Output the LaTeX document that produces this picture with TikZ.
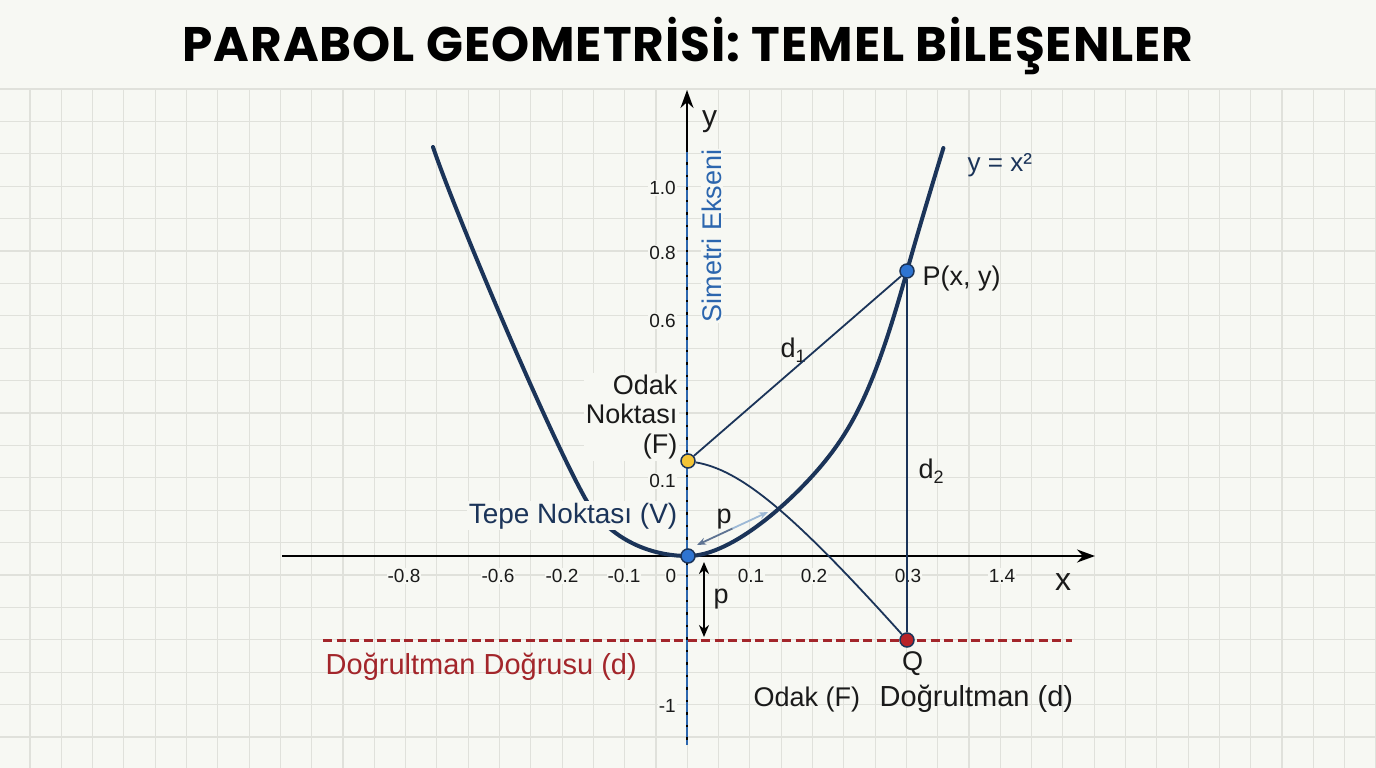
\documentclass[tikz,border=0pt]{standalone}
\usepackage{fontspec}
\setmainfont{Liberation Sans}
\newfontfamily\titlefont{Poppins}
\usetikzlibrary{arrows.meta}
\definecolor{bg}{HTML}{F7F8F3}
\definecolor{gridc}{HTML}{E0E1DB}
\definecolor{navy}{HTML}{1B3459}
\definecolor{symblue}{HTML}{2C66AE}
\definecolor{dred}{HTML}{A3262B}
\definecolor{dotblue}{HTML}{2E74D1}
\definecolor{dotyellow}{HTML}{F3C436}
\definecolor{dotred}{HTML}{B82228}
\definecolor{parrowA}{HTML}{9DB9D6}
\definecolor{parrowB}{HTML}{5E7392}
\definecolor{txt}{HTML}{1A1A1A}
\tikzset{
  lab/.style={font=\fontsize{27}{30}\selectfont, text=txt, fill=bg, inner sep=1.5pt},
  tick/.style={font=\fontsize{19}{22}\selectfont, text=txt, fill=bg, inner sep=1pt},
  dot/.style={circle, minimum size=14pt, inner sep=0pt, draw=navy, line width=1.5pt},
  conn/.style={navy, line width=1.8pt},
}
\begin{document}
\begin{tikzpicture}[x=1pt,y=-1pt]
\useasboundingbox (0,0) rectangle (1376,768);
\fill[bg] (0,0) rectangle (1376,768);
% grid
\foreach \i in {0,...,43} \draw[gridc, line width=1.1pt] ({30+31.3*\i},89) -- ({30+31.3*\i},768);
\foreach \j in {0,...,21} \draw[gridc, line width=1.1pt] (0,{89+32.4*\j}) -- (1376,{89+32.4*\j});
% title
\node[font=\titlefont\bfseries\fontsize{48.5}{54}\selectfont\addfontfeature{LetterSpace=2}, text=black] (title) at (688,46) {PARABOL GEOMETRİSİ: TEMEL BİLEŞENLER};
% key positions
\coordinate (cV) at (688,556);
\coordinate (cF) at (688,461);
\coordinate (cP) at (907,271);
\coordinate (cQ) at (907,640);
\coordinate (topL) at (433,147);
\coordinate (topR) at (943.4,148);
\coordinate (mL) at (585,498);
\coordinate (mR) at (826,460);
% directrix
\coordinate (dl) at (323,640);
\coordinate (dr) at (1072,640);
\draw[dred, line width=3pt, dash pattern=on 9pt off 4.5pt] (dl) -- (dr);
% axes
\coordinate (xl) at (282,556);
\coordinate (xr) at (1095,556);
\coordinate (yb) at (687,745);
\coordinate (yt) at (687,90);
\coordinate (sa) at (687,152);
\draw[line width=2.3pt, -{Stealth[length=18pt,width=13pt]}] (xl) -- (xr);
\draw[line width=2.3pt, -{Stealth[length=18pt,width=13pt]}] (yb) -- (yt);
\draw[symblue, line width=2.6pt, dash pattern=on 10pt off 2.5pt] (sa) -- (yb);
% parabola
\draw[navy, line width=4pt, line cap=round]
  (topL) .. controls (453,207) and (545,426) .. (mL)
  .. controls (607,537.6) and (648,556) .. (cV)
  .. controls (733,556) and (796,497.5) .. (mR)
  .. controls (856.9,421.4) and (877.4,377.6) .. (cP)
  .. controls (917,235) and (933,182) .. (topR);
% tick labels
\node[tick] (tm08) at (404,576) {-0.8};
\node[tick] (tm06) at (498,576) {-0.6};
\node[tick] (tm02) at (562,576) {-0.2};
\node[tick] (tm01) at (624,576) {-0.1};
\node[tick] (t0) at (671,576) {0};
\node[tick] (t01) at (751,576) {0.1};
\node[tick] (t02) at (814,576) {0.2};
\node[tick] (t03) at (908,576) {0.3};
\node[tick] (t14) at (1002,576) {1.4};
\node[tick, anchor=east] (ty10) at (677,188) {1.0};
\node[tick, anchor=east] (ty08) at (677,252.5) {0.8};
\node[tick, anchor=east] (ty06) at (677,321) {0.6};
\node[tick, anchor=east] (ty01) at (677,481) {0.1};
\node[tick, anchor=east] (tym1) at (677,706) {-1};
% labels
\node[lab, font=\fontsize{30}{30}\selectfont, fill=none, anchor=base] (ylab) at (709.5,126) {y};
\node[lab, font=\fontsize{32}{32}\selectfont, fill=none, anchor=base] (xlab) at (1063,590) {x};
\node[lab, font=\fontsize{27}{27}\selectfont, text=symblue, rotate=90, inner sep=1pt] (sym) at (712,236) {Simetri Ekseni};
\node[lab, text=navy, font=\fontsize{26}{26}\selectfont, fill=none, anchor=base west] (eq) at (966,171) {y = x²};
\node[lab, fill=none, anchor=base west] (Plab) at (921,285) {P(x, y)};
\node[lab, anchor=east, align=right, font=\fontsize{27}{29.5}\selectfont] (Flab) at (679,417) {Odak\\Noktası\\(F)};
\node[lab, text=navy, font=\fontsize{28}{30}\selectfont, anchor=base east] (Vlab) at (679,523) {Tepe Noktası (V)};
\node[lab, fill=none, anchor=base west] (d1) at (779,357) {d\raisebox{-0.22em}{\fontsize{18}{18}\selectfont 1}};
\node[lab, fill=none, anchor=base west] (d2) at (917,478) {d\raisebox{-0.22em}{\fontsize{18}{18}\selectfont 2}};
\node[lab, fill=none, anchor=base] (p1) at (724,523) {p};
\node[lab, fill=none, anchor=base] (p2) at (721,603) {p};
\node[lab, text=dred, font=\fontsize{29}{30}\selectfont, fill=none, anchor=base west] (dlab) at (324,674) {Doğrultman Doğrusu (d)};
\node[lab, fill=none, anchor=base] (Qlab) at (912.5,670) {Q};
\node[lab, fill=none, anchor=base west] (of) at (752,706) {Odak (F)};
\node[lab, font=\fontsize{29}{30}\selectfont, fill=none, anchor=base west] (od) at (878,706) {Doğrultman (d)};
% points
\node[dot, fill=dotblue] (V) at (cV) {};
\node[dot, fill=dotyellow] (F) at (cF) {};
\node[dot, fill=dotblue] (P) at (cP) {};
\node[dot, fill=dotred] (Q) at (cQ) {};
% connectors
\draw[conn] (F) -- (P);
\draw[conn] (P) -- (Q);
\draw[conn] (F) .. controls (740,470) and (790,510) .. (Q);
% p arrows
\coordinate (pa1) at (768,512);
\coordinate (pam) at (732.5,528.5);
\coordinate (pa2) at (697,545);
\draw[parrowA, line width=1.8pt, {Stealth[length=9pt,width=7pt]}-] (pa1) -- (pam);
\draw[parrowB, line width=1.8pt, -{Stealth[length=9pt,width=7pt]}] (pam) -- (pa2);
\coordinate (pb1) at (704,562);
\coordinate (pb2) at (704,637);
\draw[black, line width=2pt, {Stealth[length=12pt,width=10pt]}-{Stealth[length=12pt,width=10pt]}] (pb1) -- (pb2);
\end{tikzpicture}
\end{document}
